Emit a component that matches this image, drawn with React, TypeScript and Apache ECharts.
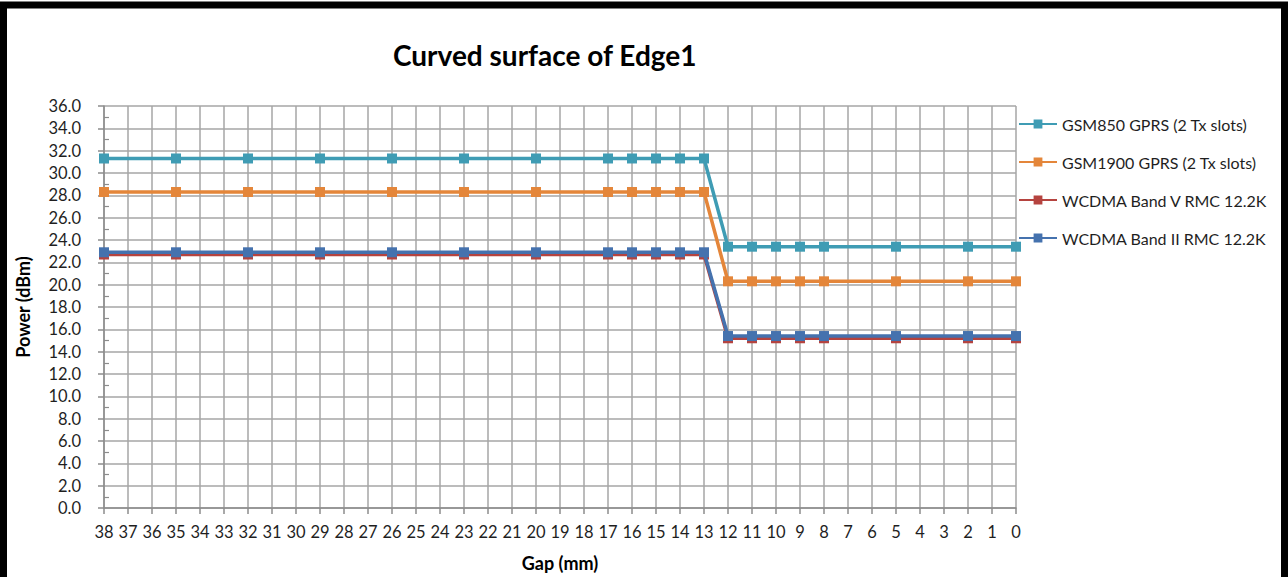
import React, { useEffect, useRef } from "react";
import * as echarts from "echarts";

// Gap positions along the x axis (mm), shown from 38 down to 0
const gapTicks: string[] = Array.from({ length: 39 }, (_, i) => String(38 - i));

// Gaps at which power was measured
const measuredGaps: number[] = [38, 35, 32, 29, 26, 23, 20, 17, 16, 15, 14, 13, 12, 11, 10, 9, 8, 5, 2, 0];

// Measured power (dBm) per band
const gsm850: number[] = [31.3, 31.3, 31.3, 31.3, 31.3, 31.3, 31.3, 31.3, 31.3, 31.3, 31.3, 31.3, 23.4, 23.4, 23.4, 23.4, 23.4, 23.4, 23.4, 23.4];
const gsm1900: number[] = [28.3, 28.3, 28.3, 28.3, 28.3, 28.3, 28.3, 28.3, 28.3, 28.3, 28.3, 28.3, 20.3, 20.3, 20.3, 20.3, 20.3, 20.3, 20.3, 20.3];
const wcdmaBandV: number[] = [22.7, 22.7, 22.7, 22.7, 22.7, 22.7, 22.7, 22.7, 22.7, 22.7, 22.7, 22.7, 15.2, 15.2, 15.2, 15.2, 15.2, 15.2, 15.2, 15.2];
const wcdmaBandII: number[] = [22.9, 22.9, 22.9, 22.9, 22.9, 22.9, 22.9, 22.9, 22.9, 22.9, 22.9, 22.9, 15.4, 15.4, 15.4, 15.4, 15.4, 15.4, 15.4, 15.4];

const seriesNames: string[] = [
  "GSM850 GPRS (2 Tx slots)",
  "GSM1900 GPRS (2 Tx slots)",
  "WCDMA Band V RMC 12.2K",
  "WCDMA Band II RMC 12.2K",
];
const seriesColors: string[] = ["#3F9CB4", "#E4863A", "#B5433F", "#4572AE"];

const FONT = "Lato, 'Open Sans', sans-serif";
const TEXT_COLOR = "#1f1f1f";

export default function App() {
  const ref = useRef<HTMLDivElement>(null);

  useEffect(() => {
    if (!ref.current) return;
    const chart = echarts.init(ref.current, undefined, { renderer: "svg" });

    const values = [gsm850, gsm1900, wcdmaBandV, wcdmaBandII];
    const series = values.map((vals, k) => ({
      name: seriesNames[k],
      type: "line",
      data: measuredGaps.map((g, i) => [String(g), vals[i]]),
      symbol: "rect",
      symbolSize: 10,
      lineStyle: { width: 3.5, color: seriesColors[k] },
      itemStyle: { color: seriesColors[k] },
      z: 3 + k,
    }));

    chart.setOption({
      animation: false,
      backgroundColor: "#ffffff",
      textStyle: { fontFamily: FONT },
      title: {
        text: "Curved surface of Edge1",
        left: 388,
        top: 36,
        textStyle: { fontFamily: FONT, fontSize: 28, fontWeight: "bold", color: "#000" },
      },
      legend: {
        orient: "vertical",
        left: 1018,
        top: 115,
        padding: 0,
        itemWidth: 38,
        itemHeight: 11,
        itemGap: 20,
        data: seriesNames,
        textStyle: { fontFamily: FONT, fontSize: 16, lineHeight: 18, color: TEXT_COLOR },
      },
      grid: { left: 104, right: 272, top: 106, bottom: 69, containLabel: false },
      xAxis: {
        type: "category",
        data: gapTicks,
        boundaryGap: false,
        name: "Gap (mm)",
        nameLocation: "middle",
        nameGap: 46,
        nameTextStyle: { fontFamily: FONT, fontSize: 18, fontWeight: "bold", color: "#000" },
        axisLine: { lineStyle: { color: "#8c8c8c", width: 1.5 } },
        axisTick: { interval: 0, length: 6, lineStyle: { color: "#8c8c8c", width: 1.5 } },
        axisLabel: { interval: 0, fontSize: 16.5, color: TEXT_COLOR, margin: 15, fontFamily: FONT },
        splitLine: { show: true, interval: 0, lineStyle: { color: "#a6a6a6", width: 1.5 } },
      },
      yAxis: [
        {
          type: "value",
          min: 0,
          max: 36,
          interval: 2,
          name: "Power (dBm)",
          nameLocation: "middle",
          nameGap: 72,
          nameRotate: 90,
          nameTextStyle: { fontFamily: FONT, fontSize: 18, fontWeight: "bold", color: "#000" },
          axisLine: { show: true, lineStyle: { color: "#8c8c8c", width: 1.5 } },
          axisTick: { show: true, length: 6, lineStyle: { color: "#8c8c8c", width: 1.5 } },
          axisLabel: {
            fontSize: 16.5,
            color: TEXT_COLOR,
            margin: 23,
            fontFamily: FONT,
            formatter: (v: number) => v.toFixed(1),
          },
          splitLine: { show: true, lineStyle: { color: "#a6a6a6", width: 1.5 } },
        },
        {
          // minor tick marks drawn inside the plot at odd values
          type: "value",
          min: 0,
          max: 36,
          interval: 2,
          position: "left",
          axisLine: { show: false },
          axisTick: { show: false, inside: true },
          axisLabel: { show: false },
          splitLine: { show: false },
          minorTick: { show: true, splitNumber: 2, length: 5, lineStyle: { color: "#8c8c8c", width: 1.2 } },
        },
      ],
      graphic: [
        {
          type: "rect",
          shape: { x: 3.5, y: 5, width: 1281, height: 800 },
          style: { fill: "none", stroke: "#000", lineWidth: 7 },
          silent: true,
          z: 100,
        },
      ],
      series,
    });

    return () => chart.dispose();
  }, []);

  return (
    <div
      ref={ref}
      style={{ position: "absolute", left: 0, top: 0, width: 1288, height: 577 }}
    />
  );
}
